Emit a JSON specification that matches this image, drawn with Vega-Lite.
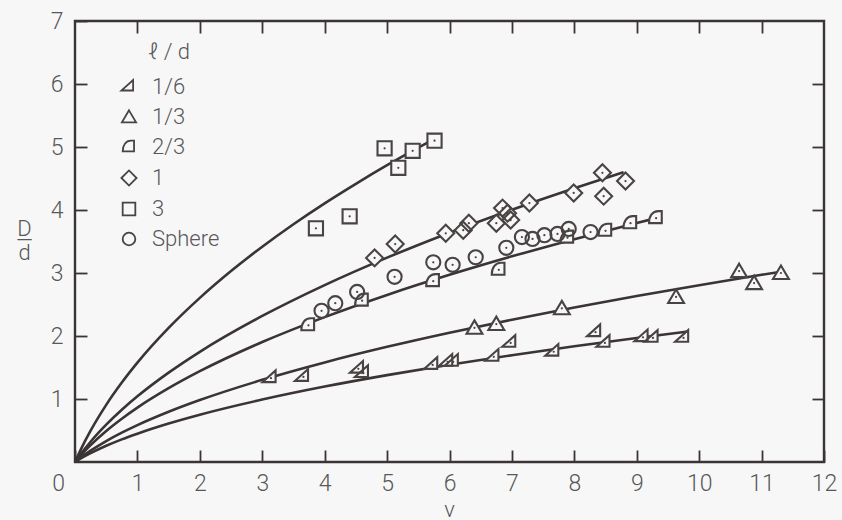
{
  "$schema": "https://vega.github.io/schema/vega-lite/v6.json",
  "width": 749,
  "height": 441,
  "autosize": "none",
  "padding": {"left": 75, "top": 21, "right": 18, "bottom": 58},
  "background": "#f7f7f7",
  "datasets": {
    "curves": [
      {"c": "3", "v": 0, "D": 0}, {"c": "3", "v": 0.1, "D": 0.213}, {"c": "3", "v": 0.25, "D": 0.497}, {"c": "3", "v": 0.5, "D": 0.907}, {"c": "3", "v": 0.75, "D": 1.261}, {"c": "3", "v": 1, "D": 1.577}, {"c": "3", "v": 1.5, "D": 2.128}, {"c": "3", "v": 2, "D": 2.605}, {"c": "3", "v": 2.5, "D": 3.031}, {"c": "3", "v": 3, "D": 3.417}, {"c": "3", "v": 3.5, "D": 3.774}, {"c": "3", "v": 4, "D": 4.106}, {"c": "3", "v": 4.5, "D": 4.416}, {"c": "3", "v": 5, "D": 4.711}, {"c": "3", "v": 5.5, "D": 4.99}, {"c": "3", "v": 5.76, "D": 5.13},
      {"c": "1", "v": 0, "D": 0}, {"c": "1", "v": 0.1, "D": 0.137}, {"c": "1", "v": 0.25, "D": 0.322}, {"c": "1", "v": 0.5, "D": 0.592}, {"c": "1", "v": 0.75, "D": 0.829}, {"c": "1", "v": 1, "D": 1.042}, {"c": "1", "v": 1.5, "D": 1.418}, {"c": "1", "v": 2, "D": 1.749}, {"c": "1", "v": 3, "D": 2.318}, {"c": "1", "v": 4, "D": 2.808}, {"c": "1", "v": 5, "D": 3.244}, {"c": "1", "v": 6, "D": 3.64}, {"c": "1", "v": 7, "D": 4.005}, {"c": "1", "v": 8, "D": 4.346}, {"c": "1", "v": 8.79, "D": 4.6},
      {"c": "2/3", "v": 0, "D": 0}, {"c": "2/3", "v": 0.1, "D": 0.114}, {"c": "2/3", "v": 0.25, "D": 0.268}, {"c": "2/3", "v": 0.5, "D": 0.492}, {"c": "2/3", "v": 0.75, "D": 0.687}, {"c": "2/3", "v": 1, "D": 0.863}, {"c": "2/3", "v": 1.5, "D": 1.171}, {"c": "2/3", "v": 2, "D": 1.441}, {"c": "2/3", "v": 3, "D": 1.904}, {"c": "2/3", "v": 4, "D": 2.3}, {"c": "2/3", "v": 5, "D": 2.652}, {"c": "2/3", "v": 6, "D": 2.971}, {"c": "2/3", "v": 7, "D": 3.264}, {"c": "2/3", "v": 8, "D": 3.537}, {"c": "2/3", "v": 9, "D": 3.794}, {"c": "2/3", "v": 9.39, "D": 3.89},
      {"c": "1/3", "v": 0, "D": 0}, {"c": "1/3", "v": 0.1, "D": 0.077}, {"c": "1/3", "v": 0.25, "D": 0.18}, {"c": "1/3", "v": 0.5, "D": 0.332}, {"c": "1/3", "v": 0.75, "D": 0.465}, {"c": "1/3", "v": 1, "D": 0.585}, {"c": "1/3", "v": 1.5, "D": 0.797}, {"c": "1/3", "v": 2, "D": 0.983}, {"c": "1/3", "v": 3, "D": 1.304}, {"c": "1/3", "v": 4, "D": 1.581}, {"c": "1/3", "v": 5, "D": 1.828}, {"c": "1/3", "v": 6, "D": 2.052}, {"c": "1/3", "v": 7, "D": 2.259}, {"c": "1/3", "v": 8, "D": 2.452}, {"c": "1/3", "v": 9, "D": 2.635}, {"c": "1/3", "v": 10, "D": 2.807}, {"c": "1/3", "v": 11, "D": 2.971}, {"c": "1/3", "v": 11.31, "D": 3.02},
      {"c": "1/6", "v": 0, "D": 0}, {"c": "1/6", "v": 0.1, "D": 0.06}, {"c": "1/6", "v": 0.25, "D": 0.14}, {"c": "1/6", "v": 0.5, "D": 0.257}, {"c": "1/6", "v": 0.75, "D": 0.359}, {"c": "1/6", "v": 1, "D": 0.45}, {"c": "1/6", "v": 1.5, "D": 0.611}, {"c": "1/6", "v": 2, "D": 0.751}, {"c": "1/6", "v": 3, "D": 0.991}, {"c": "1/6", "v": 4, "D": 1.197}, {"c": "1/6", "v": 5, "D": 1.379}, {"c": "1/6", "v": 6, "D": 1.543}, {"c": "1/6", "v": 7, "D": 1.695}, {"c": "1/6", "v": 8, "D": 1.836}, {"c": "1/6", "v": 9, "D": 1.969}, {"c": "1/6", "v": 9.81, "D": 2.07}
    ],
    "pts": [
      {"ld": "3", "v": 3.86, "D": 3.71}, {"ld": "3", "v": 4.4, "D": 3.9}, {"ld": "3", "v": 4.96, "D": 4.98}, {"ld": "3", "v": 5.18, "D": 4.67}, {"ld": "3", "v": 5.41, "D": 4.94}, {"ld": "3", "v": 5.76, "D": 5.1},
      {"ld": "1", "v": 4.8, "D": 3.24}, {"ld": "1", "v": 5.13, "D": 3.46}, {"ld": "1", "v": 5.94, "D": 3.63}, {"ld": "1", "v": 6.22, "D": 3.68}, {"ld": "1", "v": 6.31, "D": 3.79}, {"ld": "1", "v": 6.85, "D": 4.03}, {"ld": "1", "v": 6.93, "D": 3.95}, {"ld": "1", "v": 6.75, "D": 3.79}, {"ld": "1", "v": 6.98, "D": 3.84}, {"ld": "1", "v": 7.28, "D": 4.11}, {"ld": "1", "v": 7.99, "D": 4.27}, {"ld": "1", "v": 8.45, "D": 4.59}, {"ld": "1", "v": 8.47, "D": 4.22}, {"ld": "1", "v": 8.82, "D": 4.46},
      {"ld": "Sphere", "v": 3.95, "D": 2.4}, {"ld": "Sphere", "v": 4.17, "D": 2.52}, {"ld": "Sphere", "v": 4.52, "D": 2.7}, {"ld": "Sphere", "v": 5.12, "D": 2.94}, {"ld": "Sphere", "v": 5.74, "D": 3.17}, {"ld": "Sphere", "v": 6.05, "D": 3.13}, {"ld": "Sphere", "v": 6.42, "D": 3.25}, {"ld": "Sphere", "v": 6.91, "D": 3.4}, {"ld": "Sphere", "v": 7.16, "D": 3.57}, {"ld": "Sphere", "v": 7.33, "D": 3.54}, {"ld": "Sphere", "v": 7.52, "D": 3.6}, {"ld": "Sphere", "v": 7.73, "D": 3.62}, {"ld": "Sphere", "v": 7.91, "D": 3.7}, {"ld": "Sphere", "v": 8.26, "D": 3.65},
      {"ld": "2/3", "v": 3.74, "D": 2.17}, {"ld": "2/3", "v": 4.6, "D": 2.56}, {"ld": "2/3", "v": 5.74, "D": 2.87}, {"ld": "2/3", "v": 6.79, "D": 3.05}, {"ld": "2/3", "v": 7.89, "D": 3.56}, {"ld": "2/3", "v": 8.5, "D": 3.67}, {"ld": "2/3", "v": 8.9, "D": 3.79}, {"ld": "2/3", "v": 9.31, "D": 3.87},
      {"ld": "1/3", "v": 6.4, "D": 2.13}, {"ld": "1/3", "v": 6.75, "D": 2.19}, {"ld": "1/3", "v": 7.8, "D": 2.44}, {"ld": "1/3", "v": 9.63, "D": 2.62}, {"ld": "1/3", "v": 10.64, "D": 3.03}, {"ld": "1/3", "v": 10.88, "D": 2.84}, {"ld": "1/3", "v": 11.31, "D": 3.0},
      {"ld": "1/6", "v": 3.14, "D": 1.33}, {"ld": "1/6", "v": 3.66, "D": 1.35}, {"ld": "1/6", "v": 4.54, "D": 1.48}, {"ld": "1/6", "v": 4.62, "D": 1.41}, {"ld": "1/6", "v": 5.73, "D": 1.54}, {"ld": "1/6", "v": 5.97, "D": 1.59}, {"ld": "1/6", "v": 6.06, "D": 1.59}, {"ld": "1/6", "v": 6.71, "D": 1.67}, {"ld": "1/6", "v": 6.98, "D": 1.89}, {"ld": "1/6", "v": 7.67, "D": 1.75}, {"ld": "1/6", "v": 8.34, "D": 2.06}, {"ld": "1/6", "v": 8.49, "D": 1.89}, {"ld": "1/6", "v": 9.1, "D": 1.98}, {"ld": "1/6", "v": 9.26, "D": 1.97}, {"ld": "1/6", "v": 9.75, "D": 1.97}
    ]
  },
  "resolve": {"axis": {"x": "independent", "y": "independent"}, "legend": {"shape": "independent"}},
  "layer": [
    {
      "data": {"name": "curves"},
      "mark": {"type": "line", "color": "#3b3434", "strokeWidth": 2.6, "interpolate": "monotone"},
      "encoding": {
        "x": {"field": "v", "type": "quantitative", "scale": {"domain": [0, 12], "nice": false, "zero": true},
          "axis": {"orient": "bottom", "values": [0,1,2,3,4,5,6,7,8,9,10,11,12], "title": "v", "grid": false, "domain": false,
            "tickSize": -12, "tickWidth": 1.8, "tickColor": "#3b3434", "labelPadding": 33, "labelBaseline": "middle", "labelFlush": false,
            "labelOffset": {"condition": {"test": "datum.value == 0", "value": -17}, "value": 0},
            "titleX": 374, "titleY": 54, "titleBaseline": "alphabetic"}},
        "y": {"field": "D", "type": "quantitative", "scale": {"domain": [0, 7], "nice": false},
          "axis": {"orient": "left", "values": [1,2,3,4,5,6,7], "title": ["D", "—", "d"], "grid": false, "domain": false,
            "tickSize": -12, "tickWidth": 1.8, "tickColor": "#3b3434", "labelPadding": 24,
            "titleAngle": 0, "titleX": -51, "titleY": 214, "titleAlign": "center", "titleBaseline": "alphabetic", "titleLineHeight": 12}},
        "detail": {"field": "c"}
      }
    },
    {
      "data": {"name": "pts"},
      "mark": {"type": "point", "filled": true, "color": "#f7f7f7", "opacity": 1, "size": 200},
      "encoding": {
        "x": {"field": "v", "type": "quantitative", "axis": null},
        "y": {"field": "D", "type": "quantitative", "axis": null},
        "shape": {"field": "ld", "type": "nominal", "legend": null}
      }
    },
    {
      "data": {"name": "pts"},
      "mark": {"type": "point", "filled": false, "color": "#4a4343", "strokeWidth": 2.1, "opacity": 1, "size": 200},
      "encoding": {
        "x": {"field": "v", "type": "quantitative", "axis": null},
        "y": {"field": "D", "type": "quantitative", "axis": null},
        "shape": {"field": "ld", "type": "nominal",
          "scale": {"domain": ["1/6", "1/3", "2/3", "1", "3", "Sphere"],
            "range": ["M -1.2 0.55 L 0.65 0.55 L 0.65 -1.1 Z", "M 0 -1.05 L 1.12 0.85 L -1.12 0.85 Z", "M -1 0.7 L 0.8 0.7 L 0.8 -1 L 0.3 -1 C -0.5 -1 -1 -0.3 -1 0.7 Z", "M -1.2 0 L 0 -1.2 L 1.2 0 L 0 1.2 Z", "square", "circle"]},
          "legend": {"title": "ℓ / d", "orient": "none", "legendX": 43, "legendY": 21, "padding": 0,
            "titleFontSize": 22, "titleAnchor": "middle", "titlePadding": 12, "labelFontSize": 22, "labelOffset": 12,
            "rowPadding": 8, "symbolSize": 160, "symbolStrokeWidth": 1.8}}
      }
    },
    {
      "data": {"name": "pts"},
      "mark": {"type": "circle", "color": "#444", "size": 5, "opacity": 1},
      "encoding": {
        "x": {"field": "v", "type": "quantitative",
          "axis": {"orient": "top", "values": [1,2,3,4,5,6,7,8,9,10,11], "labels": false, "title": null, "domain": false, "grid": false, "tickSize": -12, "tickWidth": 1.8, "tickColor": "#3b3434"}},
        "y": {"field": "D", "type": "quantitative",
          "axis": {"orient": "right", "values": [1,2,3,4,5,6], "labels": false, "title": null, "domain": false, "grid": false, "tickSize": -12, "tickWidth": 1.8, "tickColor": "#3b3434"}}
      }
    }
  ],
  "config": {
    "view": {"stroke": "#3b3434", "strokeWidth": 2.4},
    "font": "Roboto",
    "axis": {"labelFont": "Roboto", "labelFontSize": 23, "labelFontWeight": 300, "labelColor": "#585858", "titleFont": "Roboto", "titleFontSize": 22, "titleFontWeight": 300, "titleColor": "#585858"},
    "legend": {"labelFont": "Roboto", "labelFontWeight": 300, "labelColor": "#585858", "titleFont": "Roboto", "titleFontWeight": 300, "titleColor": "#585858"}
  }
}
